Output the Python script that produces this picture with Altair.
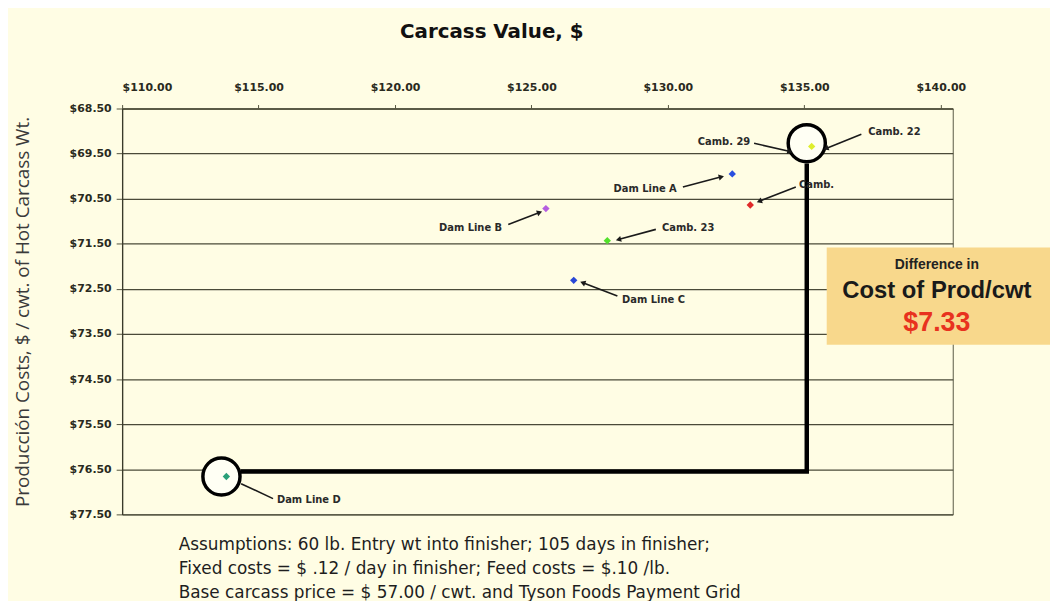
import math
import altair as alt
import pandas as pd

# ---- data ----
point_names = ["Camb. 22", "Dam Line A", "Camb.", "Dam Line B", "Camb. 23", "Dam Line C", "Dam Line D"]
point_x = [135.27, 132.36, 133.02, 125.53, 127.78, 126.55, 113.82]
point_y = [69.34, 69.95, 70.64, 70.72, 71.43, 72.31, 76.66]
point_colors = ["#dfee2e", "#2a4fe0", "#e02a2a", "#b55ee0", "#52e02a", "#2a48d6", "#2aa078"]

circle_x = [135.09, 113.64]
circle_y = [69.27, 76.66]

connector_x = [114.35, 135.09, 135.09]
connector_y = [76.55, 76.55, 69.72]

label_text = ["Camb. 29", "Camb. 22", "Dam Line A", "Camb.", "Dam Line B", "Camb. 23", "Dam Line C", "Dam Line D"]
label_x = [133.09, 137.27, 130.40, 134.73, 124.00, 129.71, 128.25, 115.60]
label_y = [69.25, 69.03, 70.28, 70.19, 71.14, 71.16, 72.75, 77.19]
label_side = ["right", "left", "right", "left", "right", "left", "left", "left"]

arrow_x1 = [133.16, 137.09, 130.55, 134.69, 124.15, 129.56, 128.15, 114.36]
arrow_y1 = [69.27, 69.07, 70.24, 70.24, 71.07, 71.18, 72.66, 76.82]
arrow_x2 = [134.44, 135.82, 131.93, 133.38, 125.27, 128.22, 126.91, 115.53]
arrow_y2 = [69.45, 69.38, 70.02, 70.55, 70.81, 71.40, 72.37, 77.15]
arrow_head = [True, True, True, True, True, True, True, False]

x_ticks = [110, 115, 120, 125, 130, 135, 140]
y_ticks = [68.5, 69.5, 70.5, 71.5, 72.5, 73.5, 74.5, 75.5, 76.5, 77.5]

box_lines = ["Difference in", "Cost of Prod/cwt", "$7.33"]
footnote_lines = [
    "Assumptions:  60 lb. Entry wt into finisher; 105 days in finisher;",
    "Fixed costs = $ .12 / day in finisher;  Feed costs = $.10 /lb.",
    "Base carcass price = $ 57.00 / cwt. and Tyson Foods Payment Grid",
]

x_title = "Carcass Value, $"
y_title = "Producción Costs, $ / cwt. of Hot Carcass Wt."

# ---- layout ----
W, H = 837, 409
X_MAX = 140.44
PX_PER_X = W / (X_MAX - 110)
PX_PER_Y = H / (77.5 - 68.5)
BG = "#FFFDE4"

points = pd.DataFrame({"name": point_names, "x": point_x, "y": point_y, "color": point_colors})
circles = pd.DataFrame({"x": circle_x, "y": circle_y})
connector = pd.DataFrame({"x": connector_x, "y": connector_y, "o": list(range(len(connector_x)))})
labels = pd.DataFrame({"text": label_text, "x": label_x, "y": label_y, "side": label_side})
arrows = pd.DataFrame({"x": arrow_x1, "y": arrow_y1, "xe": arrow_x2, "ye": arrow_y2, "head": arrow_head})
arrows["angle"] = [
    math.degrees(math.atan2((b - a) * PX_PER_X, -(d - c) * PX_PER_Y)) % 360
    for a, b, c, d in zip(arrow_x1, arrow_x2, arrow_y1, arrow_y2)
]
heads = arrows[arrows["head"]][["xe", "ye", "angle"]].rename(columns={"xe": "x", "ye": "y"})

xs = alt.Scale(domain=[110, X_MAX], nice=False, zero=False)
ys = alt.Scale(domain=[68.5, 77.5], nice=False, zero=False, reverse=True)

x_axis = alt.Axis(
    orient="top", values=x_ticks, format="$.2f", grid=False,
    labelFont="DejaVu Sans", labelFontWeight="bold", labelFontSize=11, labelColor="#2a2a20",
    tickSize=4, tickColor="#55553f", domainColor="#55553f", labelPadding=12,
    title=x_title, titleFont="DejaVu Sans", titleFontSize=20, titleFontWeight="bold",
    titleColor="#111111", titleX=372, titleY=-78, titleAnchor="middle", titleBaseline="middle",
)
y_axis = alt.Axis(
    values=y_ticks, format="$.2f", grid=True, gridColor="#4a4a38", gridWidth=1.3,
    labelFont="DejaVu Sans", labelFontWeight="bold", labelFontSize=11, labelColor="#2a2a20",
    tickSize=6, tickColor="#55553f", domainColor="#3a3a2a", domainWidth=1.3, labelPadding=5,
    title=y_title, titleFont="Open Sans", titleFontSize=19, titleFontWeight="normal",
    titleColor="#3a3a3a", titleAngle=-90, titleX=-100, titleY=H / 2, titleAnchor="middle",
    titleBaseline="middle",
)


def X(field="x"):
    return alt.X(f"{field}:Q", scale=xs, axis=x_axis)


def Y(field="y"):
    return alt.Y(f"{field}:Q", scale=ys, axis=y_axis)


conn = alt.Chart(connector).mark_line(color="#000000", strokeWidth=4.5, strokeJoin="miter").encode(
    x=X(), y=Y(), order="o:O",
)

circ = alt.Chart(circles).mark_point(
    shape="circle", filled=False, fill="#FFFFF4", fillOpacity=1, stroke="#000000",
    strokeWidth=3.5, size=1400, opacity=1
).encode(x=X(), y=Y())

arr = alt.Chart(arrows).mark_rule(color="#1a1a1a", strokeWidth=1.6).encode(
    x=X(), y=Y(), x2="xe:Q", y2="ye:Q",
)

hd = alt.Chart(heads).mark_point(
    shape="triangle", filled=True, color="#1a1a1a", size=38, opacity=1
).encode(x=X(), y=Y(), angle=alt.Angle("angle:Q", scale=None))


def label_layer(side):
    d = labels[labels["side"] == side]
    return alt.Chart(d).mark_text(
        align=side, baseline="middle", font="DejaVu Sans", fontWeight="bold",
        fontSize=10, color="#2a2a2a", dx=(-2 if side == "right" else 2)
    ).encode(x=X(), y=Y(), text="text:N")


pts = alt.Chart(points).mark_point(shape="diamond", filled=True, size=55, opacity=1).encode(
    x=X(), y=Y(), color=alt.Color("color:N", scale=None)
)

one = "datum.name == 'Camb. 22'"
box = alt.Chart(points).mark_rect(color="#F8D88C", opacity=1).encode(
    x=alt.value(710), x2=alt.value(940), y=alt.value(140), y2=alt.value(238)
).transform_filter(one)

box_t1 = alt.Chart(points).mark_text(
    font="Liberation Sans", fontWeight="bold", fontSize=14, color="#222222", align="center", baseline="middle"
).encode(x=alt.value(821), y=alt.value(158), text=alt.value(box_lines[0])).transform_filter(one)
box_t2 = alt.Chart(points).mark_text(
    font="Liberation Sans", fontWeight="bold", fontSize=24, color="#1a1a1a", align="center", baseline="middle"
).encode(x=alt.value(821), y=alt.value(184), text=alt.value(box_lines[1])).transform_filter(one)
box_t3 = alt.Chart(points).mark_text(
    font="Liberation Sans", fontWeight="bold", fontSize=27, color="#E8321E", align="center", baseline="middle"
).encode(x=alt.value(821), y=alt.value(216), text=alt.value(box_lines[2])).transform_filter(one)

foot = alt.Chart(points).mark_text(
    font="DejaVu Sans", fontSize=17, color="#1e1e1e", align="left", baseline="middle", lineHeight=24
).encode(x=alt.value(57), y=alt.value(440), text=alt.value(footnote_lines)).transform_filter(one)

chart = alt.layer(
    conn, circ, arr, hd, label_layer("left"), label_layer("right"), pts,
    box, box_t1, box_t2, box_t3, foot,
).properties(
    width=W, height=H,
    autosize=alt.AutoSizeParams(type="none"),
    padding={"left": 115, "top": 99, "right": 98, "bottom": 85},
    background=BG,
).configure_view(
    stroke="#5a5a45", strokeWidth=1, fill=BG
)

chart.save("out.html", embed_options={"renderer": "svg", "actions": False})
